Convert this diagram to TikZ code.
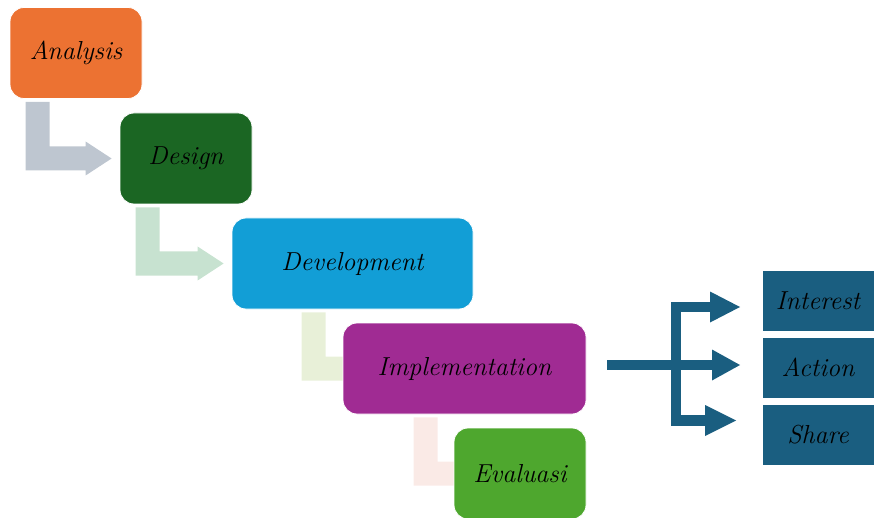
\documentclass[tikz,border=0pt]{standalone}
\usetikzlibrary{calc,backgrounds}

\definecolor{anaorange}{RGB}{236,114,50}
\definecolor{desgreen}{RGB}{27,102,35}
\definecolor{devblue}{RGB}{18,158,214}
\definecolor{implpurple}{RGB}{160,43,147}
\definecolor{evalgreen}{RGB}{78,167,46}
\definecolor{arrgray}{RGB}{190,198,208}
\definecolor{arrmint}{RGB}{199,226,208}
\definecolor{arrlime}{RGB}{232,240,216}
\definecolor{arrpink}{RGB}{250,234,230}
\definecolor{aidablue}{RGB}{26,94,128}

\tikzset{
	phase/.style={rectangle, rounded corners=14pt, draw=white, line width=0.8pt,
		minimum width=#1, minimum height=91pt, inner sep=0pt,
		font=\rmfamily\itshape\fontsize{26}{31}\selectfont},
	aida/.style={rectangle, fill=aidablue, draw=white, line width=0.8pt,
		minimum width=112pt, minimum height=61pt, inner sep=0pt,
		font=\rmfamily\itshape\fontsize{26}{31}\selectfont}
}

% bent block arrow from the bottom of #1 (#4 in from its left) to the left side of #2, tip #5 before it
\newcommand{\elbow}[5]{%
	\fill[#3] let \p1=(#1.south west), \p2=(#2.west) in
	(\x1+#4,\y1-3pt) -- (\x1+#4+24pt,\y1-3pt) -- (\x1+#4+24pt,\y2+12pt)
	-- (\x2-#5-26pt,\y2+12pt) -- (\x2-#5-26pt,\y2+17pt) -- (\x2-#5,\y2)
	-- (\x2-#5-26pt,\y2-17pt) -- (\x2-#5-26pt,\y2-12pt) -- (\x1+#4,\y2-12pt) -- cycle;}

\begin{document}
\begin{tikzpicture}[x=1pt, y=-1pt]

	\useasboundingbox (0,0) rectangle (874,518);

	\node[phase=132pt, fill=anaorange] (ana) at (76,53) {Analysis};
	\node[phase=132pt, fill=desgreen] (des) at (186,158.5) {Design};
	\node[phase=241pt, fill=devblue] (dev) at (352.5,263.5) {Development};
	\node[phase=243pt, fill=implpurple] (impl) at (464.5,368.5) {Implementation};
	\node[phase=132pt, fill=evalgreen] (eval) at (520,473.5) {Evaluasi};

	\begin{scope}[on background layer]
		\elbow{ana}{des}{arrgray}{16pt}{8pt}
		\elbow{des}{dev}{arrmint}{16pt}{8pt}
		\elbow{dev}{impl}{arrlime}{70pt}{-36pt}
		\elbow{impl}{eval}{arrpink}{71pt}{-36pt}
	\end{scope}

	% fork to the three outcomes
	\coordinate (fork) at (607,365);
	\fill[aidablue] (671,302) rectangle (681,426);
	\foreach \xs/\xh/\xt/\yc in {671/710/740/307, 607/712/740/365, 671/705/736/420.5}{
		\fill[aidablue] (\xs,\yc-5.2) rectangle (\xh,\yc+5.2);
		\fill[aidablue] (\xh,\yc-15.5) -- (\xt,\yc) -- (\xh,\yc+15.5) -- cycle;
	}

	\node[aida] (int) at (818,300.5) {Interest};
	\node[aida] (act) at (818,367.5) {Action};
	\node[aida] (sha) at (818,434.5) {Share};

\end{tikzpicture}
\end{document}
